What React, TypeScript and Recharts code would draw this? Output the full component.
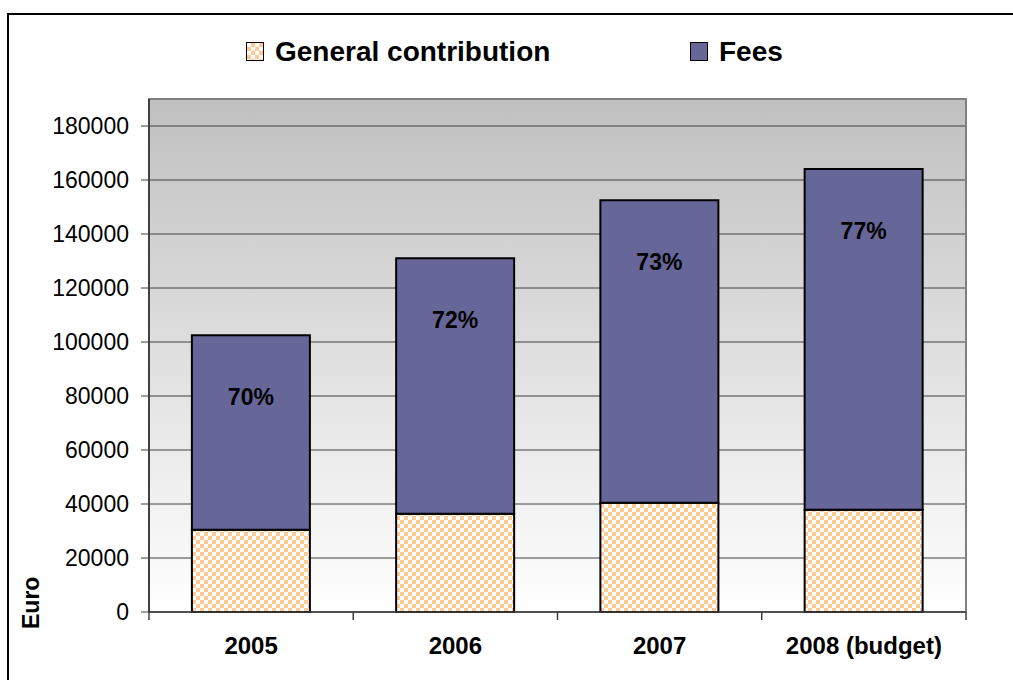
import { Bar, BarChart, CartesianGrid, LabelList, ReferenceArea, XAxis, YAxis } from "recharts";

const years = ["2005", "2006", "2007", "2008 (budget)"];
const generalContribution = [30500, 36400, 40500, 37900];
const fees = [72000, 94600, 112000, 126200];
const feeShare = ["70%", "72%", "73%", "77%"];
const yTicks = [0, 20000, 40000, 60000, 80000, 100000, 120000, 140000, 160000, 180000];

const data = years.map((year, i) => ({
	year,
	general: generalContribution[i],
	fees: fees[i],
	pct: feeShare[i],
}));

const FONT = "'Liberation Sans', Arial, sans-serif";

const CategoryTick = (props: any) => {
	const { x, y, payload, index } = props;
	const half = payload?.offset ?? 102;
	return (
		<g>
			<line x1={x - half} x2={x - half} y1={y - 25} y2={y - 17} stroke="#404040" strokeWidth={1.5} />
			{index === years.length - 1 && (
				<line x1={x + half} x2={x + half} y1={y - 25} y2={y - 17} stroke="#404040" strokeWidth={1.5} />
			)}
			<text x={x} y={y} dy="0.71em" textAnchor="middle" fontFamily={FONT} fontSize={24} fontWeight="bold" fill="#000">
				{payload.value}
			</text>
		</g>
	);
};

const PctLabel = (props: any) => {
	const { x, y, width, value } = props;
	return (
		<text x={x + width / 2} y={y + 70} textAnchor="middle" fontFamily={FONT} fontSize={23} fontWeight="bold" fill="#000">
			{value}
		</text>
	);
};

const EuroLabel = (props: any) => {
	const { viewBox } = props;
	const lx = viewBox.x - 10;
	const ly = viewBox.y + viewBox.height + 17;
	return (
		<text x={lx} y={ly} transform={`rotate(-90, ${lx}, ${ly})`} textAnchor="start" fontFamily={FONT} fontSize={23} fontWeight="bold" fill="#000">
			Euro
		</text>
	);
};

const legendText = { position: "absolute" as const, top: 38, fontFamily: FONT, fontSize: 28, fontWeight: "bold", lineHeight: "28px", whiteSpace: "nowrap" as const };

const App = () => {
	return (
		<div style={{ position: "fixed", left: 0, top: 0, width: 1013, height: 680, background: "#fff", overflow: "hidden" }}>
			<div style={{ position: "absolute", left: 7, top: 13, width: 1100, height: 800, borderTop: "2px solid #000", borderLeft: "2px solid #000" }} />
			<div style={{ position: "absolute", left: 246, top: 42, width: 16, height: 17, border: "1px solid #000",
				background: "repeating-conic-gradient(#FFC993 0% 25%, #fff 0% 50%) 0 0 / 8px 8px" }} />
			<div style={{ ...legendText, left: 275 }}>General contribution</div>
			<div style={{ position: "absolute", left: 690, top: 42, width: 16, height: 17, border: "1px solid #000", background: "#666699" }} />
			<div style={{ ...legendText, left: 719 }}>Fees</div>
			<div style={{ position: "absolute", left: 0, top: 0 }}>
				<BarChart
					width={1013}
					height={680}
					data={data}
					barCategoryGap="21%"
					margin={{ top: 99, right: 47, left: 49, bottom: 28 }}
				>
					<defs>
						<linearGradient id="plotBg" x1="0" y1="0" x2="0" y2="1">
							<stop offset="0%" stopColor="#C0C0C0" />
							<stop offset="100%" stopColor="#FFFFFF" />
						</linearGradient>
						<pattern id="checks" width="8" height="8" patternUnits="userSpaceOnUse">
							<rect width="8" height="8" fill="#fff" />
							<rect width="4" height="4" fill="#FFC993" />
							<rect x="4" y="4" width="4" height="4" fill="#FFC993" />
						</pattern>
					</defs>
					<CartesianGrid vertical={false} stroke="#404040" strokeWidth={1} fill="url(#plotBg)" fillOpacity={1} />
					<ReferenceArea y1={0} y2={190000} fill="none" stroke="#808080" strokeWidth={2} />
					<XAxis
						dataKey="year"
						height={40}
						tickLine={false}
						axisLine={{ stroke: "#404040", strokeWidth: 1.5 }}
						tickMargin={0}
						tick={<CategoryTick />}
						tickSize={25}
					/>
					<YAxis
						width={100}
						domain={[0, 190000]}
						ticks={yTicks}
						interval={0}
						tickSize={8}
						tickMargin={12}
						axisLine={{ stroke: "#404040", strokeWidth: 2 }}
						tickLine={{ stroke: "#404040" }}
						tick={{ fontFamily: FONT, fontSize: 23, fill: "#000" }}
						label={<EuroLabel />}
					/>
					<Bar dataKey="general" stackId="a" fill="url(#checks)" stroke="#000" strokeWidth={2} isAnimationActive={false} />
					<Bar dataKey="fees" stackId="a" fill="#666699" stroke="#000" strokeWidth={2} isAnimationActive={false}>
						<LabelList dataKey="pct" content={<PctLabel />} />
					</Bar>
				</BarChart>
			</div>
		</div>
	);
};

export default App;
